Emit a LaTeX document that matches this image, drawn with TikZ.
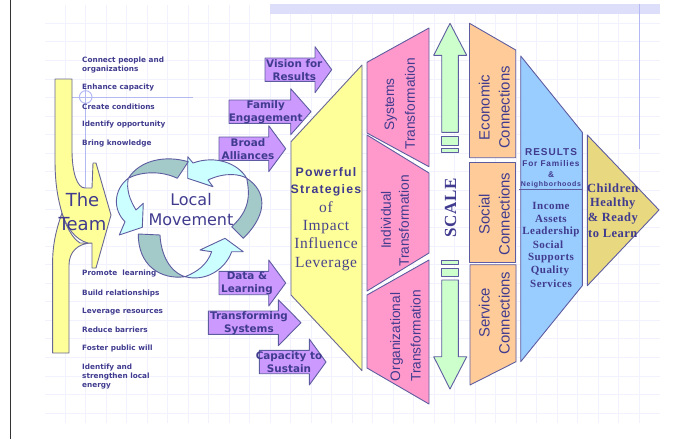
\documentclass[tikz,border=0pt]{standalone}
\usepackage{fontspec}
\newfontfamily\verdanafont{DejaVu Sans}
\newfontfamily\arialfont{Liberation Sans}
\newfontfamily\spacedsans[LetterSpace=10]{Liberation Sans}
\newfontfamily\spacedserif[LetterSpace=4]{Liberation Serif}
\definecolor{inkblue}{HTML}{403B8E}
\definecolor{edgeblue}{HTML}{5E5CA0}
\definecolor{gridblue}{HTML}{F1F2FD}
\definecolor{markblue}{HTML}{B4B9F4}
\definecolor{yellowfill}{HTML}{FFFF99}
\definecolor{cyanfill}{HTML}{CCFFFF}
\definecolor{tealfill}{HTML}{A3C9C9}
\definecolor{purplefill}{HTML}{CC99FF}
\definecolor{pinkfill}{HTML}{FF99CC}
\definecolor{greenfill}{HTML}{CCFFCC}
\definecolor{orangefill}{HTML}{FFCC99}
\definecolor{bluefill}{HTML}{99CCFF}
\definecolor{goldfill}{HTML}{E8D880}
\tikzset{
    panel/.style={draw=edgeblue, line width=0.9pt, line join=round},
    listtext/.style={anchor=west, align=left, inner sep=0pt, text=inkblue, font=\verdanafont\bfseries\fontsize{7.3}{9.4}\selectfont},
    pushtext/.style={align=center, inner sep=0pt, text=inkblue, font=\verdanafont\bfseries\fontsize{10.4}{13}\selectfont},
    sidetext/.style={rotate=90, inner sep=0pt, text=inkblue, font=\arialfont\fontsize{14}{18}\selectfont},
    seriftext/.style={inner sep=0pt, text=inkblue, font=\spacedserif\bfseries\fontsize{11}{12}\selectfont},
}
\begin{document}
\begin{tikzpicture}[x=1pt, y=-1pt]
    \useasboundingbox (0,0) rectangle (678,439);
    % backdrop
    \foreach \n in {0,...,28}
        \draw[gridblue, line width=0.8pt] ({65+20.5*\n},5) -- ({65+20.5*\n},423);
    \foreach \n in {0,...,21}
        \draw[gridblue, line width=0.8pt] (45,{23.3+18.56*\n}) -- (660,{23.3+18.56*\n});
    \draw[black!80, line width=1pt] (10.5,0) -- (10.5,439);
    \fill[markblue!45] (270,4) rectangle (660,14);
    \draw[markblue, line width=1pt] (72,97) -- (193,97);
    \draw[markblue, line width=1pt] (85.7,85) -- (85.7,188);
    \draw[markblue, line width=1pt] (85.7,97) circle (6.3);
    \draw[markblue, line width=1pt] (639,4) -- (639,149);

    % the team
    \draw[panel, draw=edgeblue!70!gray, fill=yellowfill] (52.6,353) -- (69,353) -- (69,265) .. controls (69,252) and (78,243) .. (92,243)
        -- (80,243) .. controls (72,238) and (66,226) .. (62,213) .. controls (56,230) and (52.6,245) .. (52.6,263) -- cycle;
    \draw[panel, draw=edgeblue!70!gray, fill=yellowfill] (55,79) -- (72,79) -- (72,150) .. controls (72,172) and (77,188) .. (85,188)
        -- (92,188) -- (93,163) -- (96,163) -- (111,215) -- (96,268) -- (92,268) -- (92,243) -- (88,243)
        .. controls (75,240) and (66,226) .. (62,213) .. controls (57,196) and (55,180) .. (55,160) -- cycle;
    \node[inner sep=0pt, text=inkblue, font=\verdanafont\fontsize{18}{24}\selectfont, align=center] (team) at (82.5,212) {The\\Team};

    % the loop
    \draw[panel, fill=cyanfill] (187.7,156.7) -- (187.7,178.3) -- (213,186.7) -- (208,180) .. controls (225,172) and (240,174) .. (246.7,178.3)
        .. controls (238,163) and (215,155) .. (193,163) -- cycle;
    \draw[panel, fill=tealfill] (128.3,178.3) .. controls (140,160) and (165,155) .. (188.3,161.7) -- (177.3,178.3)
        .. controls (160,170) and (140,172) .. (128.3,178.3) -- cycle;
    \draw[panel, fill=tealfill] (246.7,178.3) .. controls (265,190) and (270,212) .. (243.3,238.3) -- (231.7,226.7)
        .. controls (250,210) and (250,195) .. (246.7,178.3) -- cycle;
    \draw[panel, fill=cyanfill] (128.3,178.3) .. controls (113,190) and (113,210) .. (125,221.7) -- (119.3,235) -- (142.3,227.3) -- (143.3,203.3) -- (136,210)
        .. controls (130,200) and (126,190) .. (128.3,178.3) -- cycle;
    \draw[panel, fill=tealfill] (138.3,234) -- (160,235) .. controls (161,255) and (170,272) .. (185,276.7)
        .. controls (160,280) and (138,265) .. (138.3,234) -- cycle;
    \draw[panel, fill=cyanfill] (185,276.7) .. controls (205,282) and (225,270) .. (231.7,251.7) -- (243.3,251.7) -- (225,238.3) -- (200,250) -- (211.7,251.7)
        .. controls (207,265) and (197,272) .. (185,276.7) -- cycle;
    \node[inner sep=0pt, text=inkblue, font=\verdanafont\fontsize{16}{20}\selectfont, align=center] (movement) at (191,210) {Local\\Movement};

    % lists
    \node[listtext] (connect) at (82,65) {Connect people and\\organizations};
    \node[listtext] (strengthen) at (82,376.5) {Identify and\\strengthen local\\energy};
    \foreach \nodeid/\ypos/\wording in {
        enhance/88/Enhance capacity,
        create/107/Create conditions,
        identify/125/Identify opportunity,
        bring/144/Bring knowledge,
        promote/274/Promote~~learning,
        build/293/Build relationships,
        leverage/311.7/Leverage resources,
        reduce/329.5/Reduce barriers,
        foster/348/Foster public will
    }{
        \node[listtext] (\nodeid) at (82,\ypos) {\wording};
    }

    % push arrows
    \foreach \nodeid/\xl/\xb/\xt/\ym/\tx/\ty/\linea/\lineb in {
        vision/265/315/331.7/69.7/294.3/69.7/Vision for/Results,
        family/229/290.7/311/111.7/265.7/111.7/Family/Engagement,
        broad/219/268.7/285.7/148.7/248/149/Broad/Alliances,
        data/219/268.7/285.7/283/247/283.5/Data \&/Learning,
        transforming/208.3/278.3/301/322.7/249/323/Transforming/Systems,
        capacity/259.3/309.3/326/362/289/362.5/Capacity to/Sustain
    }{
        \draw[panel, fill=purplefill] (\xl,{\ym-11.7}) -- (\xb,{\ym-11.7}) -- (\xb,{\ym-23}) -- (\xt,\ym)
            -- (\xb,{\ym+23}) -- (\xb,{\ym+11.7}) -- (\xl,{\ym+11.7}) -- cycle;
        \node[pushtext] (\nodeid) at (\tx,\ty) {\linea\\\lineb};
    }

    % strategies
    \draw[panel, draw=edgeblue!70!gray, fill=yellowfill] (362,65) -- (362,370.7) -- (291,295) -- (291,141.7) -- cycle;
    \node[inner sep=0pt, text=inkblue, font=\spacedsans\bfseries\fontsize{12.3}{17.3}\selectfont, align=center] (powerful) at (326,181.5) {Powerful\\Strategies};
    \node[inner sep=0pt, text=inkblue!85!gray, font=\spacedserif\fontsize{15.5}{18.3}\selectfont, align=center] (impact) at (326,236) {of\\Impact\\Influence\\Leverage};

    % transformations
    \draw[panel, fill=pinkfill] (367,62.3) -- (429,28) -- (429,166.7) -- (367,133) -- cycle;
    \draw[panel, fill=pinkfill] (367,135) -- (429,173) -- (429,253) -- (367,291) -- cycle;
    \draw[panel, fill=pinkfill] (367,295) -- (429,260) -- (429,404) -- (367,368) -- cycle;
    \foreach \nodeid/\xpos/\ypos/\wording in {
        systems/390.7/104.5/Systems,
        systemstr/410/104/Transformation,
        individual/386/220/Individual,
        individualtr/404/221/Transformation,
        organizational/396.7/337/Organizational,
        organizationaltr/415.7/336/Transformation
    }{
        \node[sidetext, font=\arialfont\fontsize{13.7}{18}\selectfont] (\nodeid) at (\xpos,\ypos) {\wording};
    }

    % scale
    \draw[panel, fill=greenfill] (450,23.3) -- (466.7,55.3) -- (458.3,55.3) -- (458.3,132.3) -- (441.7,132.3) -- (441.7,55.3) -- (433.7,55.3) -- cycle;
    \draw[panel, fill=greenfill] (441.7,136) rectangle (458.3,145);
    \draw[panel, fill=greenfill] (441.7,148) rectangle (458.3,152.7);
    \draw[panel, fill=greenfill] (441.7,260) rectangle (458.3,264.7);
    \draw[panel, fill=greenfill] (441.7,268) rectangle (458.3,276.7);
    \draw[panel, fill=greenfill] (450,389) -- (466.7,356.7) -- (458.3,356.7) -- (458.3,280) -- (441.7,280) -- (441.7,356.7) -- (433.7,356.7) -- cycle;
    \node[rotate=90, inner sep=0pt, text=inkblue, font=\spacedserif\bfseries\fontsize{17}{18}\selectfont] (scale) at (450.7,208) {SCALE};

    % connections
    \draw[panel, fill=orangefill] (469.5,23.3) -- (515.7,50) -- (515.7,157.7) -- (469.5,157.7) -- cycle;
    \draw[panel, fill=orangefill] (469.5,162.3) -- (515.7,162.3) -- (515.7,262.3) -- (469.5,262.3) -- cycle;
    \draw[panel, fill=orangefill] (470,264.7) -- (516,264.7) -- (516,361.7) -- (470,385) -- cycle;
    \foreach \nodeid/\ypos/\wording in {
        economic/107.5/Economic,
        social/214/Social,
        service/313/Service
    }{
        \node[sidetext, font=\arialfont\fontsize{14.9}{18}\selectfont] (\nodeid) at (484.2,\ypos) {\wording};
        \node[sidetext, font=\arialfont\fontsize{14.9}{18}\selectfont] (\nodeid tr) at (504.2,\ypos) {Connections};
    }

    % results
    \draw[panel, fill=bluefill] (520.7,56) -- (582.3,132.3) -- (582.3,285.7) -- (520.7,361.7) -- cycle;
    \draw[edgeblue, line width=0.8pt] (519,189.3) -- (582.3,189.3);
    \node[inner sep=0pt, text=inkblue, font=\spacedsans\bfseries\fontsize{10}{12}\selectfont] (results) at (551,152) {RESULTS};
    \node[inner sep=0pt, text=inkblue, font=\spacedsans\bfseries\fontsize{8.3}{10}\selectfont] (families) at (551,164) {For Families};
    \node[inner sep=0pt, text=inkblue, font=\spacedsans\bfseries\fontsize{8.3}{10}\selectfont] (amp) at (551,175) {\&};
    \node[inner sep=0pt, text=inkblue, font=\spacedsans\bfseries\fontsize{7}{9}\selectfont] (neighborhoods) at (551,185) {Neighborhoods};
    \foreach \nodeid/\xpos/\ypos/\wording in {
        income/551/205.7/Income,
        assets/551/219/Assets,
        leadership/551/232/Leadership,
        socialres/548/245/Social,
        supports/551/258/Supports,
        quality/550/271/Quality,
        services/551/283.5/Services
    }{
        \node[seriftext] (\nodeid) at (\xpos,\ypos) {\wording};
    }

    % children
    \draw[panel, fill=goldfill] (587.3,135) -- (659,210) -- (587.3,285.7) -- cycle;
    \foreach \nodeid/\ypos/\wording in {
        children/188/Children,
        healthy/204/Healthy,
        ready/218.3/\& Ready,
        learn/233.3/to Learn
    }{
        \node[seriftext, font=\spacedserif\bfseries\fontsize{12.5}{14}\selectfont] (\nodeid) at (612.8,\ypos) {\wording};
    }
\end{tikzpicture}
\end{document}
